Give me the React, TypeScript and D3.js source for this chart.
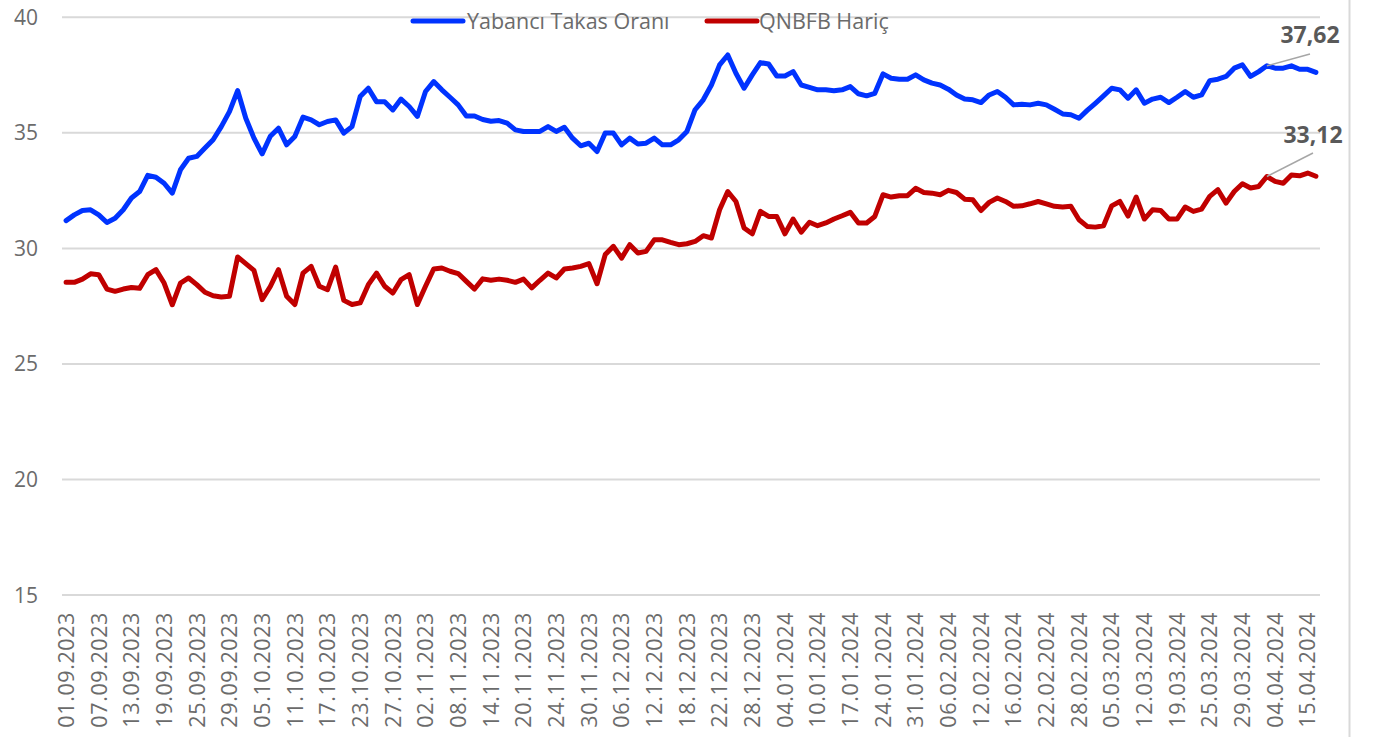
import React, { useEffect, useRef } from "react";
import * as d3 from "d3";

// every 4th trading day carries a label
const tickLabels = [
  "01.09.2023", "07.09.2023", "13.09.2023", "19.09.2023", "25.09.2023", "29.09.2023",
  "05.10.2023", "11.10.2023", "17.10.2023", "23.10.2023", "27.10.2023", "02.11.2023",
  "08.11.2023", "14.11.2023", "20.11.2023", "24.11.2023", "30.11.2023", "06.12.2023",
  "12.12.2023", "18.12.2023", "22.12.2023", "28.12.2023", "04.01.2024", "10.01.2024",
  "17.01.2024", "24.01.2024", "31.01.2024", "06.02.2024", "12.02.2024", "16.02.2024",
  "22.02.2024", "28.02.2024", "05.03.2024", "12.03.2024", "19.03.2024", "25.03.2024",
  "29.03.2024", "04.04.2024", "15.04.2024",
];
const tickStep = 4;

const yTicks = [15, 20, 25, 30, 35, 40];

const yabanci = [
  31.2, 31.45, 31.64, 31.67, 31.45, 31.12, 31.3, 31.67, 32.18, 32.46,
  33.16, 33.08, 32.82, 32.39, 33.4, 33.9, 33.98, 34.34, 34.7, 35.27,
  35.92, 36.83, 35.63, 34.77, 34.09, 34.85, 35.2, 34.48, 34.84, 35.68,
  35.56, 35.35, 35.49, 35.56, 34.99, 35.27, 36.57, 36.93, 36.35, 36.35,
  35.99, 36.46, 36.14, 35.71, 36.79, 37.22, 36.86, 36.54, 36.21, 35.73,
  35.73, 35.58, 35.5, 35.53, 35.42, 35.13, 35.06, 35.06, 35.06, 35.27,
  35.06, 35.24, 34.77, 34.44, 34.55, 34.19, 34.99, 34.99, 34.48, 34.77,
  34.52, 34.55, 34.77, 34.48, 34.48, 34.7, 35.06, 36.0, 36.43, 37.07,
  37.94, 38.37, 37.58, 36.93, 37.51, 38.04, 37.98, 37.46, 37.46, 37.65,
  37.07, 36.97, 36.86, 36.86, 36.82, 36.86, 37.0, 36.69, 36.6, 36.71,
  37.55, 37.36, 37.32, 37.32, 37.51, 37.29, 37.15, 37.07, 36.89, 36.64,
  36.46, 36.43, 36.31, 36.64, 36.79, 36.54, 36.21, 36.24, 36.21, 36.28,
  36.21, 36.02, 35.82, 35.78, 35.63, 35.97, 36.28, 36.6, 36.93, 36.86,
  36.5, 36.86, 36.28, 36.46, 36.54, 36.31, 36.54, 36.79, 36.54, 36.64,
  37.26, 37.32, 37.44, 37.8, 37.94, 37.44, 37.65, 37.9, 37.8, 37.8,
  37.9, 37.75, 37.75, 37.62,
];

const qnbfbHaric = [
  28.53, 28.53, 28.67, 28.9, 28.86, 28.24, 28.14, 28.24, 28.31, 28.27,
  28.86, 29.08, 28.5, 27.56, 28.5, 28.72, 28.43, 28.1, 27.95, 27.9,
  27.93, 29.63, 29.34, 29.05, 27.78, 28.35, 29.08, 27.93, 27.57, 28.93,
  29.22, 28.36, 28.21, 29.19, 27.75, 27.57, 27.64, 28.43, 28.93, 28.36,
  28.07, 28.65, 28.86, 27.57, 28.36, 29.11, 29.15, 29.01, 28.91, 28.57,
  28.24, 28.68, 28.62, 28.67, 28.62, 28.53, 28.67, 28.29, 28.62, 28.93,
  28.72, 29.11, 29.15, 29.22, 29.34, 28.47, 29.73, 30.09, 29.58, 30.16,
  29.8, 29.87, 30.37, 30.37, 30.26, 30.16, 30.2, 30.3, 30.55, 30.45,
  31.67, 32.46, 32.03, 30.88, 30.63, 31.6, 31.38, 31.38, 30.63, 31.27,
  30.7, 31.13, 30.98, 31.1, 31.27, 31.41, 31.56, 31.1, 31.1, 31.38,
  32.32, 32.22, 32.28, 32.28, 32.6, 32.42, 32.39, 32.32, 32.51, 32.42,
  32.13, 32.1, 31.64, 31.99, 32.18, 32.03, 31.82, 31.84, 31.93, 32.03,
  31.93, 31.82, 31.79, 31.82, 31.24, 30.95, 30.92, 30.98, 31.84, 32.03,
  31.4, 32.22, 31.27, 31.67, 31.64, 31.27, 31.27, 31.79, 31.6, 31.7,
  32.25, 32.54, 31.96, 32.46, 32.8, 32.61, 32.68, 33.11, 32.9, 32.82,
  33.18, 33.14, 33.26, 33.12,
];

const series = [
  { name: "Yabancı Takas Oranı", values: yabanci, color: "#0033ff", label: "37,62" },
  { name: "QNBFB Hariç", values: qnbfbHaric, color: "#c00000", label: "33,12" },
];

export default function App() {
  const svgRef = useRef<SVGSVGElement | null>(null);

  useEffect(() => {
    if (!svgRef.current) return;
    const svg = d3.select(svgRef.current);
    svg.selectAll("*").remove();

    const font = "'Open Sans', 'Noto Sans', sans-serif";
    const n = yabanci.length;

    const x = d3
      .scalePoint<number>()
      .domain(d3.range(n))
      .range([62, 1320])
      .padding(0.5);
    const y = d3.scaleLinear().domain([15, 40]).range([595, 17.3]);

    // chart border on the right
    svg.append("line")
      .attr("x1", 1349.5).attr("x2", 1349.5)
      .attr("y1", 0).attr("y2", 737)
      .attr("stroke", "#d9d9d9").attr("stroke-width", 2);

    // gridlines + y labels
    const gy = svg.append("g");
    gy.selectAll("line")
      .data(yTicks)
      .join("line")
      .attr("x1", 62).attr("x2", 1320)
      .attr("y1", (d) => y(d)).attr("y2", (d) => y(d))
      .attr("stroke", "#d9d9d9").attr("stroke-width", 2);
    gy.selectAll("text")
      .data(yTicks)
      .join("text")
      .attr("x", 38)
      .attr("y", (d) => y(d))
      .attr("dy", "0.36em")
      .attr("text-anchor", "end")
      .attr("fill", "#6b6b6b")
      .style("font-family", font)
      .style("font-size", "21px")
      .text((d) => d);

    // x labels, rotated
    svg.append("g")
      .selectAll("text")
      .data(tickLabels)
      .join("text")
      .attr("transform", (d, i) => `translate(${x(i * tickStep)},612) rotate(-90)`)
      .attr("dy", "0.36em")
      .attr("text-anchor", "end")
      .attr("fill", "#6b6b6b")
      .style("font-family", font)
      .style("font-size", "21.5px")
      .style("letter-spacing", "0.6px")
      .text((d) => d);

    const line = d3
      .line<number>()
      .x((d, i) => x(i) as number)
      .y((d) => y(d));

    series.forEach((s) => {
      svg.append("path")
        .datum(s.values)
        .attr("fill", "none")
        .attr("stroke", s.color)
        .attr("stroke-width", 5)
        .attr("stroke-linejoin", "round")
        .attr("stroke-linecap", "round")
        .attr("d", line);
    });

    // data labels with leader lines
    const leaderIdx = 147;
    const labelPos = [
      { tx: 1310, ty: 43, lx: 1310, ly: 54 },
      { tx: 1313, ty: 143, lx: 1313, ly: 153 },
    ];
    series.forEach((s, k) => {
      const p = labelPos[k];
      svg.append("line")
        .attr("x1", x(leaderIdx) as number)
        .attr("y1", y(s.values[leaderIdx]))
        .attr("x2", p.lx).attr("y2", p.ly)
        .attr("stroke", "#a6a6a6").attr("stroke-width", 1.5);
      svg.append("text")
        .attr("x", p.tx).attr("y", p.ty)
        .attr("text-anchor", "middle")
        .attr("fill", "#595959")
        .style("font-family", font)
        .style("font-size", "23px")
        .style("font-weight", 700)
        .text(s.label);
    });

    // legend
    const legend = [
      { x: 413, tx: 467 },
      { x: 707, tx: 759 },
    ];
    series.forEach((s, k) => {
      const l = legend[k];
      svg.append("line")
        .attr("x1", l.x).attr("x2", l.x + 50)
        .attr("y1", 21).attr("y2", 21)
        .attr("stroke", s.color).attr("stroke-width", 5)
        .attr("stroke-linecap", "round");
      svg.append("text")
        .attr("x", l.tx).attr("y", 21)
        .attr("dy", "0.36em")
        .attr("fill", "#6b6b6b")
        .style("font-family", font)
        .style("font-size", "21.5px")
        .text(s.name);
    });
  }, []);

  return (
    <div style={{ position: "absolute", left: 0, top: 0, background: "#fff" }}>
      <svg ref={svgRef} width={1373} height={737} style={{ display: "block" }} />
    </div>
  );
}
